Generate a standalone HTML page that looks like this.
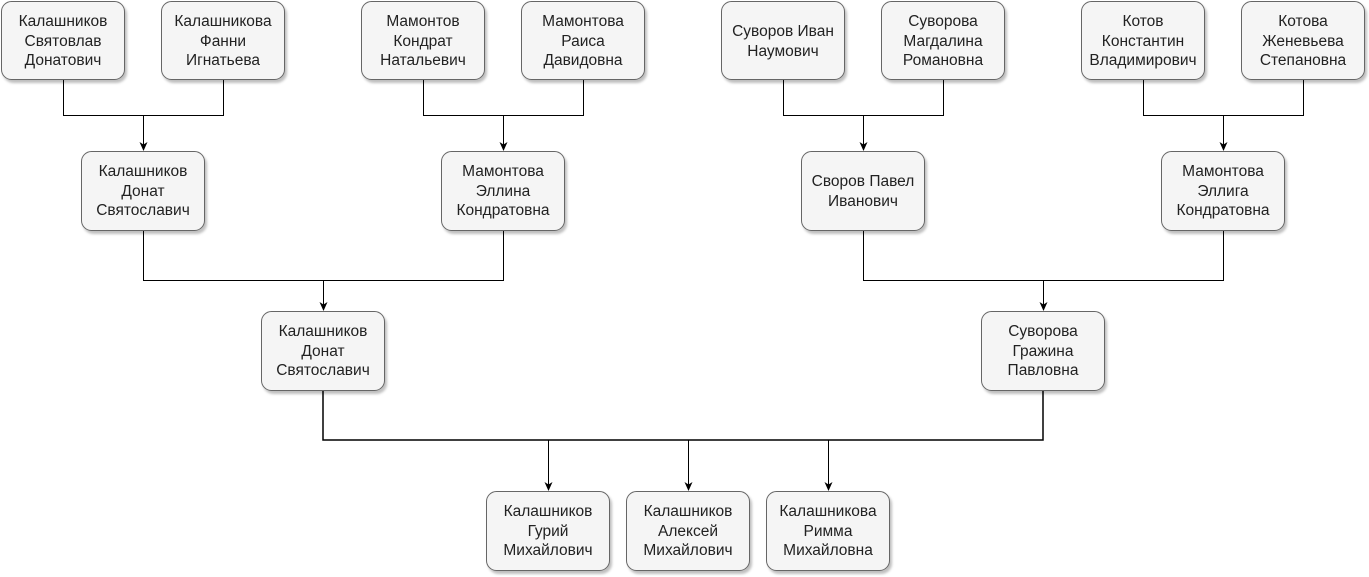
<!DOCTYPE html>
<html><head><meta charset="utf-8"><style>
html,body{margin:0;padding:0;background:#fff;width:1369px;height:577px;overflow:hidden}
svg{display:block}
text{font-family:"Liberation Sans",Arial,sans-serif;font-size:15.5px;fill:#222}
</style></head><body>
<svg width="1369" height="577" viewBox="0 0 1369 577">
<defs>
<filter id="sh" x="-10%" y="-10%" width="130%" height="130%"><feDropShadow dx="2" dy="3" stdDeviation="1.2" flood-color="#000" flood-opacity="0.25"/></filter>
<marker id="ar" markerWidth="10" markerHeight="10" refX="8" refY="5" orient="auto" markerUnits="userSpaceOnUse"><path d="M0,1 L9,5 L0,9 L2.5,5 Z" fill="#000"/></marker>
</defs>
<g stroke="#000" stroke-width="1" fill="none">
<path d="M63.5 80V115.5H223.5V80"/><path d="M143.5 115.5V150" marker-end="url(#ar)"/>
<path d="M423.5 80V115.5H583.5V80"/><path d="M503.5 115.5V150" marker-end="url(#ar)"/>
<path d="M783.5 80V115.5H943.5V80"/><path d="M863.5 115.5V150" marker-end="url(#ar)"/>
<path d="M1143.5 80V115.5H1303.5V80"/><path d="M1223.5 115.5V150" marker-end="url(#ar)"/>
<path d="M143.5 231V280.5H503.5V231"/><path d="M323.5 280.5V310" marker-end="url(#ar)"/>
<path d="M863.5 231V280.5H1223.5V231"/><path d="M1043.5 280.5V310" marker-end="url(#ar)"/>
<path d="M323 391V440H1043V391" stroke-width="1.5"/>
<path d="M548.5 440V490" marker-end="url(#ar)"/><path d="M688.5 440V490" marker-end="url(#ar)"/><path d="M828.5 440V490" marker-end="url(#ar)"/>
</g>
<g fill="#f5f5f5" stroke="#666" stroke-width="1" filter="url(#sh)">
<rect x="1.5" y="1.5" width="123" height="78" rx="10"/>
<rect x="161.5" y="1.5" width="123" height="78" rx="10"/>
<rect x="361.5" y="1.5" width="123" height="78" rx="10"/>
<rect x="521.5" y="1.5" width="123" height="78" rx="10"/>
<rect x="721.5" y="1.5" width="123" height="78" rx="10"/>
<rect x="881.5" y="1.5" width="123" height="78" rx="10"/>
<rect x="1081.5" y="1.5" width="123" height="78" rx="10"/>
<rect x="1241.5" y="1.5" width="123" height="78" rx="10"/>
<rect x="81.5" y="151.5" width="123" height="79" rx="10"/>
<rect x="441.5" y="151.5" width="123" height="79" rx="10"/>
<rect x="801.5" y="151.5" width="123" height="79" rx="10"/>
<rect x="1161.5" y="151.5" width="123" height="79" rx="10"/>
<rect x="261.5" y="311.5" width="123" height="79" rx="10"/>
<rect x="981.5" y="311.5" width="123" height="79" rx="10"/>
<rect x="486.5" y="491.5" width="123" height="79" rx="10"/>
<rect x="626.5" y="491.5" width="123" height="79" rx="10"/>
<rect x="766.5" y="491.5" width="123" height="79" rx="10"/>
</g>
<g text-anchor="middle">
<text x="63" y="26">Калашников</text><text x="63" y="46">Святовлав</text><text x="63" y="65">Донатович</text>
<text x="223" y="26">Калашникова</text><text x="223" y="46">Фанни</text><text x="223" y="65">Игнатьева</text>
<text x="423" y="26">Мамонтов</text><text x="423" y="46">Кондрат</text><text x="423" y="65">Натальевич</text>
<text x="583" y="26">Мамонтова</text><text x="583" y="46">Раиса</text><text x="583" y="65">Давидовна</text>
<text x="783" y="36">Суворов Иван</text><text x="783" y="56">Наумович</text>
<text x="943" y="26">Суворова</text><text x="943" y="46">Магдалина</text><text x="943" y="65">Романовна</text>
<text x="1143" y="26">Котов</text><text x="1143" y="46">Константин</text><text x="1143" y="65">Владимирович</text>
<text x="1303" y="26">Котова</text><text x="1303" y="46">Женевьева</text><text x="1303" y="65">Степановна</text>
<text x="143" y="176">Калашников</text><text x="143" y="196">Донат</text><text x="143" y="215">Святославич</text>
<text x="503" y="176">Мамонтова</text><text x="503" y="196">Эллина</text><text x="503" y="215">Кондратовна</text>
<text x="863" y="186">Своров Павел</text><text x="863" y="206">Иванович</text>
<text x="1223" y="176">Мамонтова</text><text x="1223" y="196">Эллига</text><text x="1223" y="215">Кондратовна</text>
<text x="323" y="336">Калашников</text><text x="323" y="356">Донат</text><text x="323" y="375">Святославич</text>
<text x="1043" y="336">Суворова</text><text x="1043" y="356">Гражина</text><text x="1043" y="375">Павловна</text>
<text x="548" y="516">Калашников</text><text x="548" y="536">Гурий</text><text x="548" y="555">Михайлович</text>
<text x="688" y="516">Калашников</text><text x="688" y="536">Алексей</text><text x="688" y="555">Михайлович</text>
<text x="828" y="516">Калашникова</text><text x="828" y="536">Римма</text><text x="828" y="555">Михайловна</text>
</g>
</svg>
</body></html>
